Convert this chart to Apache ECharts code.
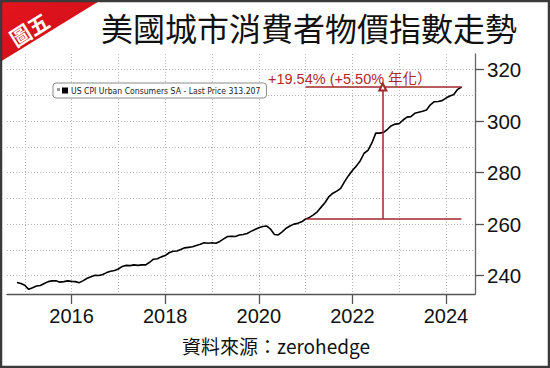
<!DOCTYPE html>
<html>
<head>
<meta charset="utf-8">
<script src="https://cdn.jsdelivr.net/npm/echarts@6/dist/echarts.min.js"></script>
<style>
html,body{margin:0;padding:0;background:#fff;}
#chart{width:550px;height:368px;}
</style>
</head>
<body>
<div id="chart"></div>
<script>
// ---- data ----
var titleText = '美國城市消費者物價指數走勢';
var badgeText = '圖五';
var sourceText = '資料來源：zerohedge';
var seriesName = 'US CPI Urban Consumers SA - Last Price 313.207';
var startYear = 2014, startMonth = 10; // first observation: Oct 2014 (plotted at month end)
var cpi = [
  237.4, 237.0, 236.3,
  234.7, 235.3, 236.0, 236.2, 237.0, 237.7, 238.0, 238.0, 237.5, 237.7, 238.0, 237.8,
  237.7, 237.3, 238.1, 239.0, 239.6, 240.2, 240.1, 240.5, 241.2, 241.7, 242.0, 242.6,
  243.6, 244.0, 243.9, 244.2, 244.0, 244.2, 244.2, 245.2, 246.4, 246.6, 247.3, 247.8,
  248.9, 249.5, 249.6, 250.2, 250.8, 251.0, 251.2, 251.7, 252.2, 252.8, 252.6, 252.8,
  252.6, 253.3, 254.3, 255.2, 255.3, 255.2, 255.8, 256.0, 256.4, 257.2, 257.9, 258.6,
  259.1, 259.3, 258.1, 256.0, 255.8, 257.0, 258.4, 259.3, 260.0, 260.3, 260.9, 262.0,
  262.6, 263.6, 264.8, 266.6, 268.4, 270.7, 272.0, 272.8, 273.9, 276.5, 278.8, 280.8,
  282.5, 284.5, 287.5, 288.6, 291.5, 295.3, 295.3, 295.6, 296.8, 298.2, 298.8, 299.0,
  300.4, 301.5, 301.7, 303.0, 303.4, 303.8, 304.3, 306.3, 307.5, 307.6, 307.9, 308.9,
  309.7, 310.3, 312.3, 313.2
];
var xTickYears = [2016, 2018, 2020, 2022, 2024];
var yTickValues = [240, 260, 280, 300, 320];
var xRange = [2014.62, 2024.62];
var yRange = [232.9, 326.0];
// annotation (growth since end of 2020)
var baseX = 2021.0, baseY = 262.0;
var endX = 2024.33, endY = 313.2;
var arrowX = 2022.65;
var annotText = '+19.54% (+5.50% 年化）';

// ---- build ----
var lineData = cpi.map(function (v, i) {
  var m = startMonth + i;
  var y = startYear + Math.floor((m - 1) / 12);
  var mm = ((m - 1) % 12) + 1;
  return [y + mm / 12, v];
});

var red = '#a3262a';
var numFont = "'Liberation Sans', Arial, Helvetica, sans-serif";
var cjkFont = "'Noto Sans CJK TC', 'Noto Sans CJK SC', sans-serif";

var chart = echarts.init(document.getElementById('chart'), null, {renderer: 'svg'});
chart.setOption({
  animation: false,
  backgroundColor: '#fff',
  grid: {left: 7, right: 75, top: 54, bottom: 74, containLabel: false},
  legend: {
    left: 53, top: 83,
    data: [{name: seriesName, icon: 'rect'}],
    itemWidth: 6, itemHeight: 6,
    padding: [3, 6, 3, 9],
    backgroundColor: '#fff',
    borderColor: '#8a8a8a', borderWidth: 1, borderRadius: 3,
    textStyle: {fontSize: 8.6, color: '#222', fontFamily: "'DejaVu Sans Condensed', 'Liberation Sans', sans-serif", padding: [0, 0, 0, -2]},
    z: 5
  },
  xAxis: [{
    type: 'value', min: xRange[0], max: xRange[1],
    axisLine: {show: true, onZero: false, lineStyle: {color: '#555', width: 1.3}},
    axisTick: {show: true, customValues: xTickYears, length: 10, lineStyle: {color: '#555', width: 1.3}},
    axisLabel: {customValues: xTickYears, formatter: function (v) { return String(v); }, fontSize: 20, color: '#111', margin: 12, fontFamily: numFont},
    splitLine: {show: false}
  }, {
    type: 'value', min: xRange[0], max: xRange[1], splitNumber: 10, position: 'top',
    axisLine: {show: false}, axisTick: {show: false}, axisLabel: {show: false},
    splitLine: {show: true, showMinLine: false, showMaxLine: false, lineStyle: {type: [1, 2], color: '#b5b5b5', width: 1}}
  }],
  yAxis: [{
    type: 'value', position: 'right', min: yRange[0], max: yRange[1],
    axisLine: {show: true, onZero: false, lineStyle: {color: '#666', width: 1.3}},
    axisTick: {show: true, customValues: yTickValues, length: 9, lineStyle: {color: '#555', width: 1.3}},
    axisLabel: {customValues: yTickValues, formatter: function (v) { return String(v); }, fontSize: 20.5, color: '#111', margin: 12, fontFamily: numFont},
    splitLine: {show: false}
  }, {
    type: 'value', position: 'left', min: yRange[0], max: yRange[1], splitNumber: 9,
    axisLine: {show: false}, axisTick: {show: false}, axisLabel: {show: false},
    splitLine: {show: true, showMinLine: false, showMaxLine: false, lineStyle: {type: [1, 2], color: '#b5b5b5', width: 1}}
  }],
  series: [{
    name: seriesName, type: 'line', xAxisIndex: 0, yAxisIndex: 0,
    data: lineData, showSymbol: false, symbol: 'none',
    itemStyle: {color: '#000'},
    lineStyle: {color: '#000', width: 1.6},
    z: 3,
    markLine: {
      silent: true, symbol: ['none', 'none'],
      label: {show: false},
      lineStyle: {color: red, width: 1.5, type: 'solid'},
      data: [
        [{coord: [baseX, baseY]}, {coord: [endX, baseY]}],
        [{coord: [baseX, endY]}, {coord: [endX, endY]}],
        [{coord: [arrowX, baseY], symbol: 'none'}, {coord: [arrowX, endY], symbol: 'emptyTriangle', symbolSize: [7, 7]}]
      ]
    }
  }],
  graphic: [
    {type: 'polygon', shape: {points: [[0, 0], [101, 0], [0, 62]]},
     style: {fill: new echarts.graphic.LinearGradient(0, 0, 1, 1, [{offset: 0, color: '#e5141d'}, {offset: 1, color: '#c90f18'}])}, z: 10},
    {type: 'text', x: 29, y: 29, rotation: 0.56,
     style: {text: badgeText, fill: '#fff', font: "bold 21px 'Noto Sans CJK TC', sans-serif", textAlign: 'center', textVerticalAlign: 'middle'}, z: 11},
    {type: 'text', x: 309, y: 27,
     style: {text: titleText, fill: '#111', font: "normal 32px 'Noto Sans CJK TC', sans-serif", textAlign: 'center', textVerticalAlign: 'middle'}, z: 11},
    {type: 'text', x: 276, y: 345,
     style: {text: sourceText, fill: '#111', font: "19px 'Noto Sans CJK TC', sans-serif", textAlign: 'center', textVerticalAlign: 'middle'}, z: 11},
    {type: 'text', x: 268, y: 79,
     style: {text: annotText, fill: '#b0282c', font: "14.5px 'Liberation Sans', 'Noto Sans CJK TC', sans-serif", textAlign: 'left', textVerticalAlign: 'middle'}, z: 11},
    {type: 'rect', shape: {x: 57, y: 88, width: 3, height: 3}, style: {fill: '#999'}, z: 20},
    {type: 'rect', shape: {x: 1, y: 1, width: 548, height: 366}, style: {fill: 'none', stroke: '#3a3a3a', lineWidth: 2.5}, z: 30}
  ]
});
</script>
</body>
</html>
